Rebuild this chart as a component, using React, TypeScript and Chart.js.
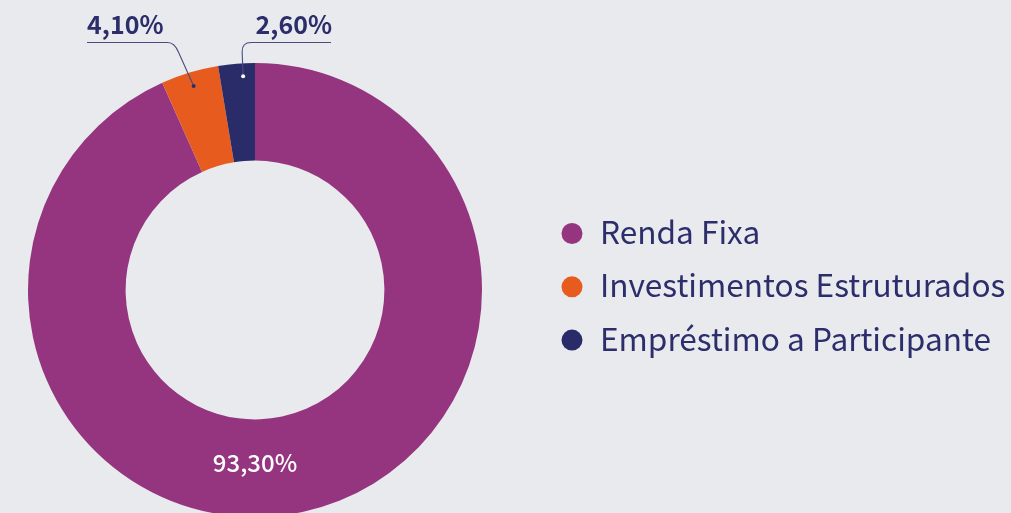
import React, { useEffect, useRef } from "react";
import { Chart, registerables } from "chart.js";

Chart.register(...registerables);

const categories = ["Renda Fixa", "Investimentos Estruturados", "Empréstimo a Participante"];
const values = [93.3, 4.1, 2.6];
const valueLabels = ["93,30%", "4,10%", "2,60%"];
const colors = ["#953580", "#e85b1e", "#2a2c69"];

const BG = "#e9eaee";
const TEXT = "#2c2e6c";
const FONT = "'Noto Sans CJK JP', 'Noto Sans', sans-serif";

const overlayPlugin = {
  id: "overlay",
  afterDraw(chart: any) {
    const ctx = chart.ctx as CanvasRenderingContext2D;
    const meta = chart.getDatasetMeta(0);
    const arcs = meta.data as any[];
    ctx.save();

    // inside label for main slice (bottom centre of ring)
    const a0 = arcs[0];
    {
      const r = (a0.innerRadius + a0.outerRadius) / 2;
      const x = a0.x;
      const y = a0.y + r - 5;
      ctx.fillStyle = "#ffffff";
      ctx.font = `500 24px ${FONT}`;
      ctx.textAlign = "center";
      ctx.textBaseline = "alphabetic";
      ctx.fillText(valueLabels[0], x, y + 9);
    }

    const lineY = 42.5;
    const dotAt = (i: number, t: number, inset: number) => {
      const a = arcs[i];
      const ang = a.startAngle + (a.endAngle - a.startAngle) * t;
      const r = a.outerRadius - inset;
      return [a.x + Math.cos(ang) * r, a.y + Math.sin(ang) * r];
    };

    ctx.strokeStyle = "#4a4c7e";
    ctx.lineWidth = 1.1;

    // orange callout (left)
    const [ox, oy] = dotAt(1, 0.5, 14);
    ctx.beginPath();
    ctx.moveTo(ox, oy);
    ctx.lineTo(ox - 15, lineY + 10);
    ctx.quadraticCurveTo(ox - 19, lineY, ox - 26, lineY);
    ctx.lineTo(87, lineY);
    ctx.stroke();
    ctx.fillStyle = TEXT;
    ctx.beginPath();
    ctx.arc(ox, oy, 2, 0, Math.PI * 2);
    ctx.fill();

    // navy callout (right)
    const [nx, ny] = dotAt(2, 0.66, 13);
    ctx.beginPath();
    ctx.moveTo(nx, ny);
    ctx.lineTo(nx - 1, lineY + 9);
    ctx.quadraticCurveTo(nx - 1, lineY, nx + 8, lineY);
    ctx.lineTo(331, lineY);
    ctx.stroke();
    ctx.fillStyle = "#ffffff";
    ctx.beginPath();
    ctx.arc(nx, ny, 2, 0, Math.PI * 2);
    ctx.fill();

    ctx.fillStyle = TEXT;
    ctx.font = `700 25px ${FONT}`;
    ctx.textBaseline = "alphabetic";
    ctx.textAlign = "left";
    ctx.fillText(valueLabels[1], 87, 34);
    ctx.textAlign = "right";
    ctx.fillText(valueLabels[2], 332, 34);

    // legend
    const legX = 572;
    const legY0 = 233.5;
    const gap = 53.3;
    ctx.font = `400 31.6px ${FONT}`;
    ctx.textAlign = "left";
    ctx.textBaseline = "alphabetic";
    categories.forEach((c, i) => {
      const y = legY0 + i * gap;
      ctx.fillStyle = colors[i];
      ctx.beginPath();
      ctx.arc(legX, y, 10.5, 0, Math.PI * 2);
      ctx.fill();
      ctx.fillStyle = TEXT;
      ctx.fillText(c, 600, y + 10.5);
    });
    ctx.restore();
  },
};

export default function App() {
  const ref = useRef<HTMLCanvasElement | null>(null);
  useEffect(() => {
    document.body.style.margin = "0";
    document.body.style.background = BG;
    const chart = new Chart(ref.current as HTMLCanvasElement, {
      type: "doughnut",
      data: {
        labels: categories,
        datasets: [
          {
            data: values,
            backgroundColor: colors,
            borderWidth: 0,
          },
        ],
      },
      options: {
        animation: false,
        responsive: false,
        maintainAspectRatio: false,
        cutout: "57%",
        layout: { padding: { left: 28, top: 63, right: 529, bottom: 13 } },
        plugins: { legend: { display: false }, tooltip: { enabled: false } },
      },
      plugins: [overlayPlugin],
    });
    return () => chart.destroy();
  }, []);
  return (
    <div style={{ width: 1011, height: 513, overflow: "hidden", background: BG }}>
      <canvas ref={ref} width={1011} height={530} style={{ display: "block" }} />
    </div>
  );
}
